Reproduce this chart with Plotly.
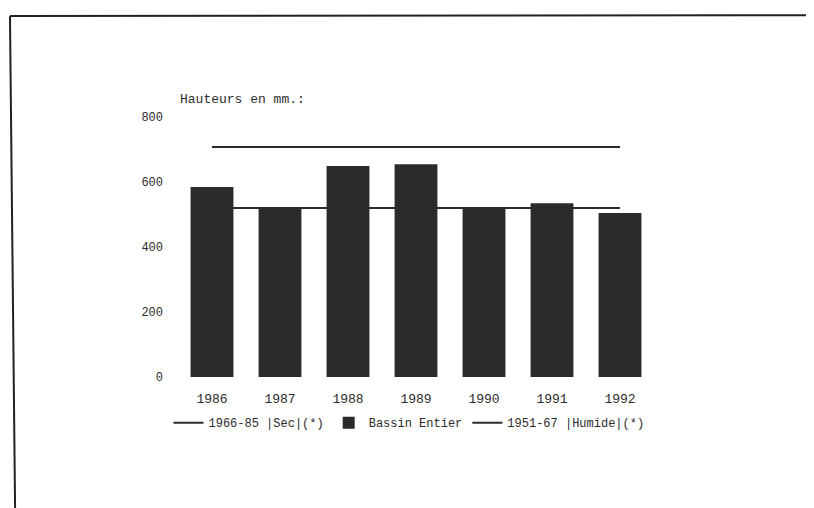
import plotly.graph_objects as go

# hauteurs annuelles (mm) - bassin entier
years = ["1986", "1987", "1988", "1989", "1990", "1991", "1992"]
bassin = [585, 520, 649, 655, 520, 535, 505]
# moyennes de reference
sec_mean = [520] * len(years)
humide_mean = [708] * len(years)

mono = "Liberation Mono"
ink = "#2b2b2b"

fig = go.Figure()
fig.add_trace(go.Scatter(x=years, y=sec_mean, mode="lines", name="1966-85 |Sec|(*)",
                         line=dict(color=ink, width=2), legendrank=1))
fig.add_trace(go.Scatter(x=years, y=humide_mean, mode="lines", name="1951-67 |Humide|(*)",
                         line=dict(color=ink, width=2), legendrank=3))
fig.add_trace(go.Bar(x=years, y=bassin, name="Bassin Entier",
                     marker=dict(color=ink, line=dict(width=0)), width=0.63, legendrank=2))

# cadre de la page scannee
fig.add_shape(type="line", xref="paper", yref="paper", x0=-0.353, x1=1.4, y0=1.388, y1=1.392,
              line=dict(color="#222", width=2))
fig.add_shape(type="line", xref="paper", yref="paper", x0=-0.353, x1=-0.342, y0=1.388, y1=-0.55,
              line=dict(color="#222", width=2))

fig.add_annotation(text="Hauteurs en mm.:", xref="paper", yref="paper", x=0.0, y=1.03,
                   xanchor="left", yanchor="bottom", showarrow=False,
                   font=dict(family=mono, size=13, color=ink))

fig.update_layout(
    width=814, height=508,
    margin=dict(l=170, r=168, t=109, b=139),
    paper_bgcolor="white", plot_bgcolor="white",
    font=dict(family=mono, size=12, color=ink),
    showlegend=True,
    legend=dict(orientation="h", x=-0.02, y=-0.12, xanchor="left", yanchor="top",
                font=dict(family=mono, size=12, color=ink), itemwidth=30,
                tracegroupgap=0, bgcolor="rgba(0,0,0,0)"),
    bargap=0.37,
)
fig.update_xaxes(showgrid=False, showline=False, zeroline=False, ticks="",
                 ticklabelstandoff=12, tickfont=dict(family=mono, size=13))
fig.update_yaxes(range=[0, 800], dtick=200, showgrid=False, showline=False, zeroline=False,
                 ticks="", ticklabelstandoff=14, tickfont=dict(family=mono, size=12))

fig.write_html("out.html")
